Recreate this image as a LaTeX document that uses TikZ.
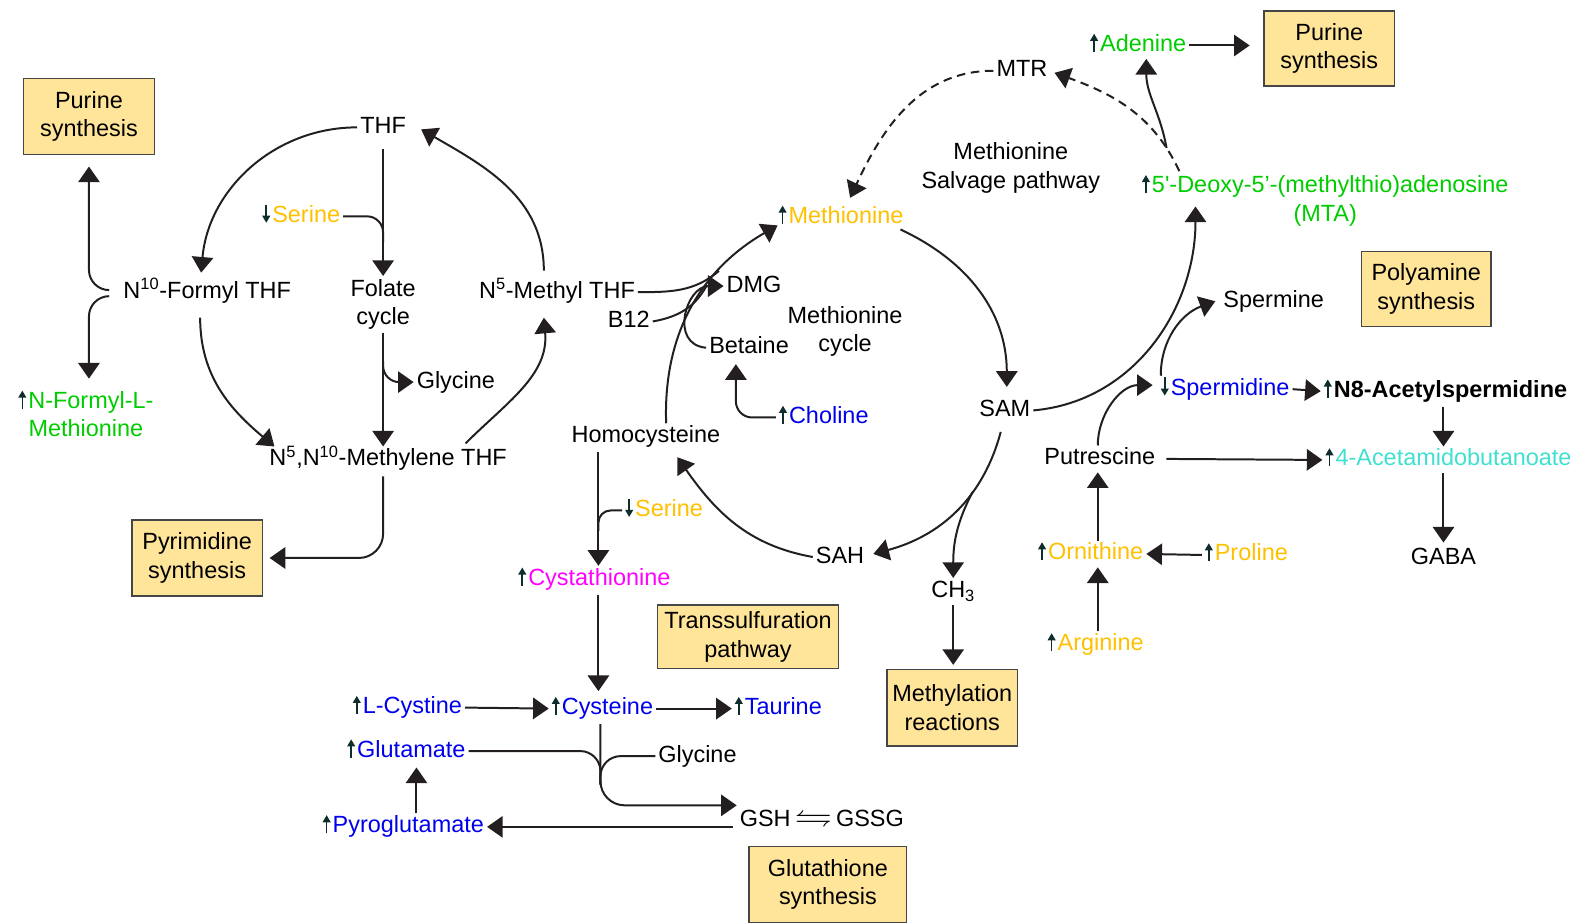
\documentclass[tikz,border=0pt]{standalone}
\usepackage{fontspec}
\setmainfont{Liberation Sans}
\usepackage{amssymb}
\usetikzlibrary{arrows.meta,calc}
\definecolor{boxfill}{RGB}{255,229,153}
\definecolor{boxdraw}{RGB}{70,70,70}
\definecolor{ink}{RGB}{35,31,32}
\definecolor{aagold}{RGB}{255,192,0}
\definecolor{aagreen}{RGB}{0,204,0}
\definecolor{aablue}{RGB}{0,0,235}
\definecolor{aapink}{RGB}{255,0,255}
\definecolor{aateal}{RGB}{64,224,208}
\definecolor{markc}{RGB}{15,45,45}
\newcommand{\incr}{\tikz[baseline=0pt]\draw[markc, line width=1.1pt, -{Triangle[length=5pt,width=5.5pt]}] (0,-0.3pt) -- (0,12.5pt);\kern1.5pt}
\newcommand{\decr}{\tikz[baseline=0pt]\draw[markc, line width=1.1pt, -{Triangle[length=5pt,width=5.5pt]}] (0,12.5pt) -- (0,-0.3pt);\kern1.5pt}

\begin{document}
\begin{tikzpicture}[x=0.025cm, y=0.025cm]
\tikzstyle{every node}+=[inner sep=2pt, font=\fontsize{16.5}{20}\selectfont]
\tikzstyle{lbl}=[text height=11.5pt, text depth=3pt]
\tikzstyle{box}=[draw=boxdraw, fill=boxfill, line width=0.9pt, align=center, outer sep=3pt]
\tikzstyle{link}=[ink, line width=1.4pt]
\tikzstyle{arr}=[link, -{Triangle[length=11pt,width=15pt]}]
\useasboundingbox (0,0) rectangle (1568,-914);
\draw (88,-115) node (purineL) [box, minimum width=3.225cm, minimum height=1.875cm] {Purine\\synthesis};
\draw (1315,-48) node (purineR) [box, minimum width=3.225cm, minimum height=1.85cm] {Purine\\synthesis};
\draw (1411,-286) node (polyamine) [box, minimum width=3.2cm, minimum height=1.85cm] {Polyamine\\synthesis};
\draw (195,-552) node (pyrimidine) [box, minimum width=3.225cm, minimum height=1.875cm] {Pyrimidine\\synthesis};
\draw (740,-630) node (transsulf) [box, minimum width=4.475cm, minimum height=1.575cm] {Transsulfuration\\pathway};
\draw (942,-700) node (methylation) [box, minimum width=3.225cm, minimum height=1.9cm] {Methylation\\reactions};
\draw (819,-875) node (glutathione) [box, minimum width=3.9cm, minimum height=1.875cm] {Glutathione\\synthesis};
\draw (379,-126) node (thf) [lbl] {THF};
\draw (298,-214) node (serF) [lbl] {\decr\textcolor{aagold}{Serine}};
\draw (379,-301) node (folate) [align=center] {Folate\\cycle};
\draw (205,-289) node (formyl) [lbl] {N\textsuperscript{10}-Formyl THF};
\draw (551,-289) node (methylthf) [lbl] {N\textsuperscript{5}-Methyl THF};
\draw (451,-378) node (glyF) [lbl] {Glycine};
\draw (384,-455) node (methylene) [lbl] {N\textsuperscript{5},N\textsuperscript{10}-Methylene THF};
\draw (85,-409) node (nformyl) [align=center] {\incr\textcolor{aagreen}{N-Formyl-L-}\\\textcolor{aagreen}{Methionine}};
\draw (832,-215) node (met) [lbl] {\incr\textcolor{aagold}{Methionine}};
\draw (746,-283) node (dmg) [lbl] {DMG};
\draw (622,-318) node (b12) [lbl] {B12};
\draw (741,-344) node (betaine) [lbl] {Betaine};
\draw (836,-328) node (metcycle) [align=center] {Methionine\\cycle};
\draw (815,-413) node (choline) [lbl] {\incr\textcolor{aablue}{Choline}};
\draw (639,-432) node (homocys) [lbl] {Homocysteine};
\draw (994,-406) node (sam) [lbl] {SAM};
\draw (831,-551) node (sah) [lbl] {SAH};
\draw (943,-585) node (ch3) [lbl] {CH\textsubscript{3}};
\draw (657,-505) node (serT) [lbl] {\decr\textcolor{aagold}{Serine}};
\draw (588,-573) node (cysta) [lbl] {\incr\textcolor{aapink}{Cystathionine}};
\draw (403,-700) node (lcystine) [lbl] {\incr\textcolor{aablue}{L-Cystine}};
\draw (596,-701) node (cysteine) [lbl] {\incr\textcolor{aablue}{Cysteine}};
\draw (770,-701) node (taurine) [lbl] {\incr\textcolor{aablue}{Taurine}};
\draw (402,-743) node (glutamate) [lbl] {\incr\textcolor{aablue}{Glutamate}};
\draw (690,-748) node (glyG) [lbl] {Glycine};
\draw (813,-812) node (gsh) [lbl] {GSH\,\scalebox{1.6}[1.3]{$\leftrightharpoons$}\,GSSG};
\draw (399,-818) node (pyroglu) [lbl] {\incr\textcolor{aablue}{Pyroglutamate}};
\draw (1011,-70) node (mtr) [lbl] {MTR};
\draw (1000,-166) node (salvage) [align=center] {Methionine\\Salvage pathway};
\draw (1126,-45) node (adenine) [lbl] {\incr\textcolor{aagreen}{Adenine}};
\draw (1311,-198) node (mta) [align=center] {\incr\textcolor{aagreen}{5\textquotesingle-Deoxy-5’-(methylthio)adenosine}\\\textcolor{aagreen}{(MTA)}};
\draw (1260,-298) node (spermine) [lbl] {Spermine};
\draw (1212,-385) node (spermidine) [lbl] {\decr\textcolor{aablue}{Spermidine}};
\draw (1430,-387) node (acetylsp) [lbl] {\incr\textbf{N8-Acetylspermidine}};
\draw (1088,-454) node (putrescine) [lbl] {Putrescine};
\draw (1433,-455) node (acetamido) [lbl] {\incr\textcolor{aateal}{4-Acetamidobutanoate}};
\draw (1428,-552) node (gaba) [lbl] {GABA};
\draw (1079,-548) node (ornithine) [lbl] {\incr\textcolor{aagold}{Ornithine}};
\draw (1233,-549) node (proline) [lbl] {\incr\textcolor{aagold}{Proline}};
\draw (1084,-638) node (arginine) [lbl] {\incr\textcolor{aagold}{Arginine}};
\draw [arr] (thf.west) to[out=180,in=85] ($(formyl.north)+(-6,6)$);
\draw [arr] ($(formyl.south)+(-7,-12)$) to[out=-90,in=140] ($(methylene.north west)+(8,0)$);
\draw [arr] ($(methylene.north east)+(-44,3)$) to[out=45,in=-85] ($(methylthf.south)+(-13,-12)$);
\draw [arr] ($(methylthf.north)+(-13,8)$) to[out=90,in=-30] ($(thf.east)+(12,-2)$);
\coordinate (serjoin) at ($(thf.south)!0.75!(folate.north)$);
\coordinate (glyjoin) at ($(folate.south)!0.25!(folate.south |- methylene.north)$);
\draw [arr] ($(thf.south)+(0,-8)$) -- (folate.north);
\draw [link, rounded corners=0.4cm] (serF.east) -| (serjoin);
\draw [arr] (folate.south) -- (folate.south |- methylene.north);
\draw [arr, rounded corners=0.4cm] (glyjoin) |- (glyF.west);
\draw [arr, rounded corners=0.6cm] ($(folate.south |- methylene.south)+(0,-3)$) |- ($(pyrimidine.east)+(3,0)$);
\draw [arr, rounded corners=0.5cm] ($(formyl.west)+(-11,2)$) -| ($(purineL.south)+(0,-8)$);
\draw [arr, rounded corners=0.5cm] ($(formyl.west)+(-11,-4)$) -| ($(nformyl.north)+(3,8)$);
\draw [arr] ($(homocys.north)+(20,0)$) to[out=92,in=-150] coordinate[pos=0.62] (metjoinb) coordinate[pos=0.7] (metjoin) ($(met.west)+(2,-8)$);
\draw [link] (methylthf.east) to[out=0,in=-140] (metjoin);
\draw [link] (b12.east) to[out=10,in=-118] (metjoinb);
\draw [arr] (betaine.west) to[out=175,in=180,looseness=1.5] (dmg.west);
\draw [arr, rounded corners=0.4cm] (choline.west) -| ($(betaine.south)+(-13,-3)$);
\draw [arr] ($(met.east)+(-6,-12)$) to[out=-25,in=90] ($(sam.north)+(2,10)$);
\draw [arr] ($(sam.south)+(-4,-8)$) to[out=-105,in=15] coordinate[pos=0.35] (ch3join) ($(sah.east)+(6,3)$);
\draw [arr] (ch3join) to[out=-118,in=90] (ch3.north);
\draw [arr] (sah.west) to[out=170,in=-55] ($(homocys.south)+(31,-7)$);
\coordinate (serTjoin) at ($(homocys.south)+(-47,-80)$);
\draw [arr] ($(homocys.south)+(-47,-2)$) -- ($(cysta.north)+(4,0)$);
\draw [link, rounded corners=0.3cm] (serT.west) -| (serTjoin);
\draw [arr] ($(cysta.south)+(4,-2)$) -- ($(cysteine.north)+(-4,4)$);
\draw [arr] (lcystine.east) -- (cysteine.west);
\draw [arr] (cysteine.east) -- (taurine.west);
\coordinate (glujoin) at ($(cysteine.south)+(-2,-62)$);
\draw [arr, rounded corners=0.6cm] ($(cysteine.south)+(-2,-2)$) |- ($(gsh.north west)+(0,2)$);
\draw [link, rounded corners=0.5cm] (glutamate.east) -| (glujoin);
\draw [link, rounded corners=0.5cm] (glyG.west) -| (glujoin);
\draw [arr] ($(gsh.west |- pyroglu.east)+(-4,0)$) -- (pyroglu.east);
\draw [arr] ($(pyroglu.north)+(13,0)$) -- ($(glutamate.south)+(10,-3)$);
\draw [arr, dashed, dash pattern=on 6pt off 4pt] (mtr.west) to[out=180,in=65] ($(met.north)+(9,6)$);
\draw [arr, dashed, dash pattern=on 6pt off 4pt] ($(mta.north west)+(40,0)$) to[out=115,in=-20] coordinate[pos=0.15] (adejoin) ($(mtr.east)+(4,-2)$);
\draw [arr] (adejoin) to[out=100,in=-90] ($(adenine.south)+(8,0)$);
\draw [arr] (adenine.east) -- ($(purineR.west)+(-10,3)$);
\draw [arr] (sam.east) to[out=5,in=-90] ($(mta.north west)+(56,-35)$);
\draw [arr] ($(putrescine.north)+(-2,0)$) to[out=90,in=180] ($(spermidine.west)+(-5,4)$);
\draw [arr] ($(spermidine.north west)+(3,0)$) to[out=90,in=200] ($(spermine.west)+(-5,0)$);
\draw [arr] (spermidine.east) -- (acetylsp.west);
\draw [arr] ($(acetylsp.south)+(-2,-2)$) -- ($(acetamido.north)+(-5,0)$);
\draw [arr] ($(putrescine.east)+(8,0)$) -- (acetamido.west);
\draw [arr] ($(acetamido.south)+(-5,0)$) -- ($(gaba.north)+(0,2)$);
\draw [arr] (proline.west) -- (ornithine.east);
\draw [arr] ($(ornithine.north)+(7,0)$) -- ($(putrescine.south)+(-2,0)$);
\draw [arr] ($(arginine.north)+(2,0)$) -- ($(ornithine.south)+(7,0)$);
\draw [arr] (ch3.south) -- ($(methylation.north)+(1,0)$);
\end{tikzpicture}
\end{document}
